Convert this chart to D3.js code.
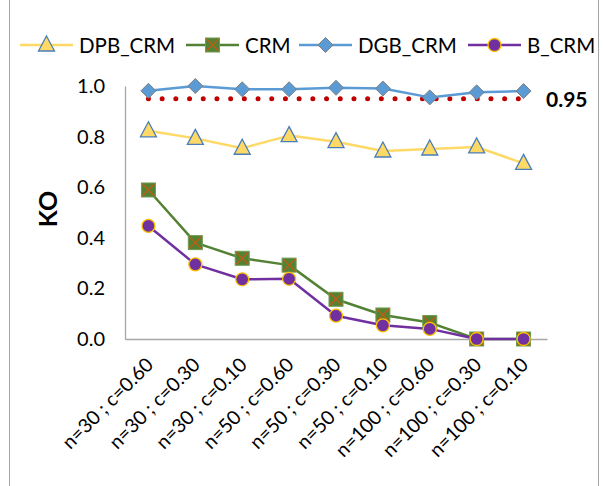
<!DOCTYPE html>
<html>
<head>
<meta charset="utf-8">
<script src="https://cdn.jsdelivr.net/npm/d3@7"></script>
<style>
  html, body { margin: 0; padding: 0; background: #fff; }
  svg { display: block; font-family: Lato, "Open Sans", sans-serif; }
</style>
</head>
<body>
<svg id="chart" width="604" height="486"></svg>
<script>
// Scenario labels (sample size n and censoring c)
const categories = [
  "n=30 ; c=0.60", "n=30 ; c=0.30", "n=30 ; c=0.10",
  "n=50 ; c=0.60", "n=50 ; c=0.30", "n=50 ; c=0.10",
  "n=100 ; c=0.60", "n=100 ; c=0.30", "n=100 ; c=0.10"
];

// KO per scenario for each method
const dpbCrm = [0.823, 0.793, 0.754, 0.804, 0.780, 0.743, 0.751, 0.759, 0.694];
const crm    = [0.589, 0.381, 0.319, 0.292, 0.157, 0.095, 0.065, 0.000, 0.000];
const dgbCrm = [0.981, 1.000, 0.987, 0.987, 0.993, 0.990, 0.955, 0.975, 0.980];
const bCrm   = [0.447, 0.295, 0.236, 0.238, 0.092, 0.054, 0.040, 0.000, 0.000];

// Reference level
const target = 0.95;
const targetLabel = "0.95";

const yTicks = [0, 0.2, 0.4, 0.6, 0.8, 1.0];
const yTitle = "KO";

const svg = d3.select("#chart");

// Chart frame
svg.append("rect")
  .attr("x", 9.5).attr("y", -2)
  .attr("width", 589).attr("height", 490)
  .attr("fill", "none").attr("stroke", "#a6a6a6").attr("stroke-width", 1);

const x = d3.scalePoint().domain(categories).range([125, 547]).padding(0.5);
const y = d3.scaleLinear().domain([0, 1]).range([339, 86]);

// Y axis
const yAxis = svg.append("g").attr("transform", "translate(125,0)")
  .call(d3.axisLeft(y).tickValues(yTicks).tickFormat(d3.format(".1f")).tickSize(0).tickPadding(20));
yAxis.select(".domain").attr("stroke", "#a6a6a6").attr("stroke-width", 1.3);
yAxis.selectAll("text").attr("font-size", 20).attr("fill", "#000").attr("font-family", "Lato");

// X axis
const xAxis = svg.append("g").attr("transform", "translate(0,339)")
  .call(d3.axisBottom(x).tickSize(0).tickFormat(""));
xAxis.select(".domain").attr("stroke", "#a6a6a6").attr("stroke-width", 1.3);

svg.append("g").selectAll("text")
  .data(categories)
  .join("text")
  .attr("transform", d => `translate(${x(d) + 6},366) rotate(-45)`)
  .attr("text-anchor", "end")
  .attr("font-size", 19.5)
  .attr("fill", "#000")
  .text(d => d);

// Y title
svg.append("text")
  .attr("transform", "translate(57,209) rotate(-90)")
  .attr("text-anchor", "middle")
  .attr("font-size", 25).attr("font-weight", "bold")
  .text(yTitle);

// Dotted reference line
const refLine = d3.line().x(d => x(d)).y(() => y(target));
svg.append("path")
  .attr("d", refLine(categories))
  .attr("fill", "none").attr("stroke", "#c00000")
  .attr("stroke-width", 5).attr("stroke-linecap", "round")
  .attr("stroke-dasharray", "0 13.7");

svg.append("text")
  .attr("x", 546).attr("y", 107)
  .attr("font-size", 21).attr("font-weight", "bold")
  .text(targetLabel);

// Series definitions
const series = [
  { name: "DPB_CRM", values: dpbCrm, line: "#ffd966", marker: "triangle" },
  { name: "CRM",     values: crm,    line: "#548235", marker: "square" },
  { name: "DGB_CRM", values: dgbCrm, line: "#5b9bd5", marker: "diamond" },
  { name: "B_CRM",   values: bCrm,   line: "#7030a0", marker: "circle" }
];

function drawMarker(g, type) {
  if (type === "triangle") {
    g.append("path").attr("d", "M0,-9 L8,6 L-8,6 Z")
      .attr("fill", "#ffd966").attr("stroke", "#4a7ebb").attr("stroke-width", 1.3);
  } else if (type === "square") {
    g.append("rect").attr("x", -7).attr("y", -7).attr("width", 14).attr("height", 14)
      .attr("fill", "#548235").attr("stroke", "#6f9a4f").attr("stroke-width", 1);
    g.append("path").attr("d", "M-6,-6 L6,6 M6,-6 L-6,6")
      .attr("stroke", "#c55a11").attr("stroke-width", 1.3);
  } else if (type === "diamond") {
    g.append("path").attr("d", "M0,-7.5 L7.5,0 L0,7.5 L-7.5,0 Z")
      .attr("fill", "#5b9bd5").attr("stroke", "#7f7f7f").attr("stroke-width", 1);
  } else {
    g.append("circle").attr("r", 6.5)
      .attr("fill", "#7030a0").attr("stroke", "#ffc000").attr("stroke-width", 1.3);
  }
}

const line = d3.line().x((d, i) => x(categories[i])).y(d => y(d));

series.forEach(s => {
  svg.append("path")
    .attr("d", line(s.values))
    .attr("fill", "none").attr("stroke", s.line)
    .attr("stroke-width", 2.5).attr("stroke-linejoin", "round");
});

series.forEach(s => {
  s.values.forEach((v, i) => {
    const g = svg.append("g").attr("transform", `translate(${x(categories[i])},${y(v)})`);
    drawMarker(g, s.marker);
  });
});

// Legend
const legendX = [20, 186, 299, 468];
const legend = svg.append("g").attr("transform", "translate(0,45)");
series.forEach((s, i) => {
  const g = legend.append("g").attr("transform", `translate(${legendX[i]},0)`);
  g.append("line").attr("x1", 0).attr("x2", 53).attr("y1", 0).attr("y2", 0)
    .attr("stroke", s.line).attr("stroke-width", 2.5);
  drawMarker(g.append("g").attr("transform", "translate(26.5,0)"), s.marker);
  g.append("text").attr("x", 59).attr("y", 7.5)
    .attr("font-size", 20.5).attr("fill", "#000")
    .text(s.name);
});
</script>
</body>
</html>
